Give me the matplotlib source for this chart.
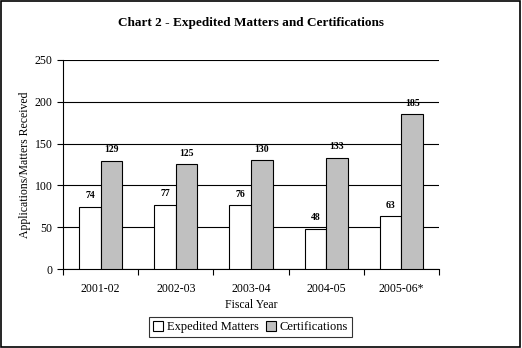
import numpy as np
import matplotlib.pyplot as plt
from matplotlib.patches import Rectangle

years = ['2001-02', '2002-03', '2003-04', '2004-05', '2005-06*']
expedited = [74, 77, 76, 48, 63]
certifications = [129, 125, 130, 133, 185]
yticks = [0, 50, 100, 150, 200, 250]

plt.rcParams['font.family'] = ['Liberation Serif', 'DejaVu Serif']

fig = plt.figure(figsize=(5.22, 3.48), dpi=100)
fig.patches.append(Rectangle((0.002, 0.003), 0.995, 0.994, transform=fig.transFigure,
                             fill=False, edgecolor='black', linewidth=1.2))
ax = fig.add_axes([0.1207, 0.227, 0.7203, 0.6006])

x = np.arange(len(years))
w = 0.286
b1 = ax.bar(x - w / 2, expedited, w, color='white', edgecolor='black', linewidth=0.8, zorder=3)
b2 = ax.bar(x + w / 2, certifications, w, color='#c0c0c0', edgecolor='black', linewidth=0.8, zorder=3)

for bars, vals in ((b1, expedited), (b2, certifications)):
    for r, v in zip(bars, vals):
        ax.text(r.get_x() + r.get_width() / 2, v + 8, str(v), ha='center', va='bottom',
                fontsize=7, fontweight='bold')

ax.set_xlim(-0.5, len(years) - 0.5)
ax.set_ylim(0, 250)
ax.set_yticks(yticks)
ax.set_xticks(x)
ax.set_xticklabels(years, fontsize=8.5)
ax.set_xticks(np.arange(len(years) + 1) - 0.5, minor=True)
ax.tick_params(axis='x', which='major', length=0, pad=10)
ax.tick_params(axis='x', which='minor', length=4, direction='out', width=0.8)
ax.tick_params(axis='y', length=4, direction='out', width=0.8, labelsize=8.5)
ax.yaxis.grid(True, color='black', linewidth=0.8, zorder=0)
ax.set_axisbelow(True)
for s in ('top', 'right'):
    ax.spines[s].set_visible(False)
for s in ('left', 'bottom'):
    ax.spines[s].set_linewidth(0.8)

ax.set_xlabel('Fiscal Year', fontsize=8.5, labelpad=3)
ax.set_ylabel('Applications/Matters Received', fontsize=8.5, labelpad=3)
fig.text(0.48, 0.935, 'Chart 2 - Expedited Matters and Certifications', ha='center',
         va='center', fontsize=9.5, fontweight='bold')

leg = fig.legend([b1, b2], ['Expedited Matters', 'Certifications'], loc='center',
                 bbox_to_anchor=(0.48, 0.06), ncol=2, fontsize=9, frameon=True,
                 fancybox=False, edgecolor='black', handlelength=0.8, handleheight=0.8,
                 handletextpad=0.3, columnspacing=0.6, borderpad=0.3)
leg.get_frame().set_linewidth(0.8)

fig.savefig('out.png', dpi=100)
